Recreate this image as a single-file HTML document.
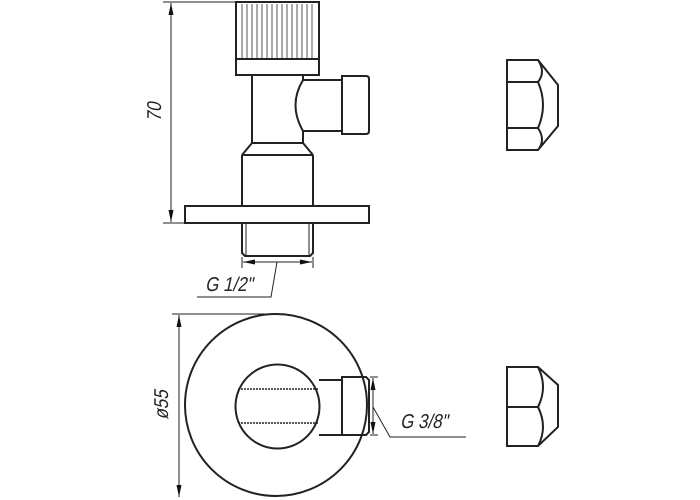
<!DOCTYPE html>
<html><head><style>body{margin:0;background:#fff}svg{display:block}</style></head>
<body>
<svg width="700" height="500" viewBox="0 0 700 500" xmlns="http://www.w3.org/2000/svg">
<defs>
<marker id="a" viewBox="0 0 12 5" refX="12" refY="2.5" markerWidth="12" markerHeight="5" orient="auto-start-reverse" markerUnits="userSpaceOnUse"><path d="M0,0 L12,2.5 L0,5 z" fill="#111"/></marker>
</defs>
<g fill="none" stroke="#222" stroke-width="2">
<rect x="236" y="2" width="83" height="73"/>
<line x1="236" y1="59" x2="319" y2="59"/>
<path d="M252,75 V143 M303,75 V80 M303,131 V143"/>
<path d="M303,80 H342 M303,131 H342 M303,80 Q288,105 303,131"/>
<path d="M342,76 H366 Q369,76 369,79 V131 Q369,134 366,134 H342 Z"/>
<path d="M252,143 L242,155 M303,143 L313,155 M252,143 H303"/>
<line x1="242" y1="155" x2="313" y2="155"/>
<path d="M242,155 V206 M313,155 V206"/>
<rect x="185" y="206" width="184" height="17"/>
<path d="M242,223 V253 L245,256 H310 L313,253 V223"/>
<circle cx="276" cy="405" r="91"/>
<circle cx="277.5" cy="406.5" r="42"/>
<path d="M319,380 H342 M319,435 H342"/>
<path d="M342,377 H366 L369,380 V432 L366,435 H342 Z"/>
<path d="M507,60 H538 L558,85 V126 L538,150 H507 Z M507,82 H538 M507,128 H538 M538,60 Q546,72 538,82 Q548,105 538,128 Q546,140 538,150"/>
<path d="M507,367 H538 L558,385 V427 L538,446 H507 Z M507,407 H538 M538,367 Q548,387 538,407 Q548,427 538,446"/>
</g>
<g stroke="#222" stroke-width="1" fill="none">
<path d="M242,4V58M247,4V58M252,4V58M257,4V58M262,4V58M267,4V58M272,4V58M277,4V58M282,4V58M287,4V58M292,4V58M297,4V58M302,4V58M307,4V58M312,4V58" stroke="#555"/>
<path d="M246,223V256M309,223V256"/>
<path d="M238,389 H318 M238,423 H318" stroke-dasharray="2,1" stroke-width="1.5"/>
<path d="M163,2 H235 M163,223 H185"/>
<line x1="171" y1="3" x2="171" y2="222" marker-start="url(#a)" marker-end="url(#a)"/>
<path d="M242,257 V268 M313,257 V268"/>
<line x1="243" y1="262" x2="312" y2="262" marker-start="url(#a)" marker-end="url(#a)"/>
<path d="M277,262 L271,297 H197"/>
<path d="M172,314 H276"/>
<line x1="179" y1="315" x2="179" y2="497" marker-start="url(#a)" marker-end="url(#a)"/>
<path d="M370,377 H378 M370,435 H378"/>
<line x1="373" y1="378" x2="373" y2="434" marker-start="url(#a)" marker-end="url(#a)"/>
<path d="M373,407 L390,437 H466"/>
</g>
<g font-family="Liberation Sans Narrow, Liberation Sans, sans-serif" font-size="20" fill="#222">
<text transform="translate(205,291) skewX(-12) scale(0.85,1)">G 1/2"</text>
<text transform="translate(400,428) skewX(-12) scale(0.85,1)">G 3/8"</text>
<text transform="translate(161,112) rotate(-90) skewX(-12) scale(0.85,1)" text-anchor="middle">70</text>
<text transform="translate(168,405) rotate(-90) skewX(-12) scale(0.85,1)" text-anchor="middle">ø55</text>
</g>
</svg>
</body></html>
